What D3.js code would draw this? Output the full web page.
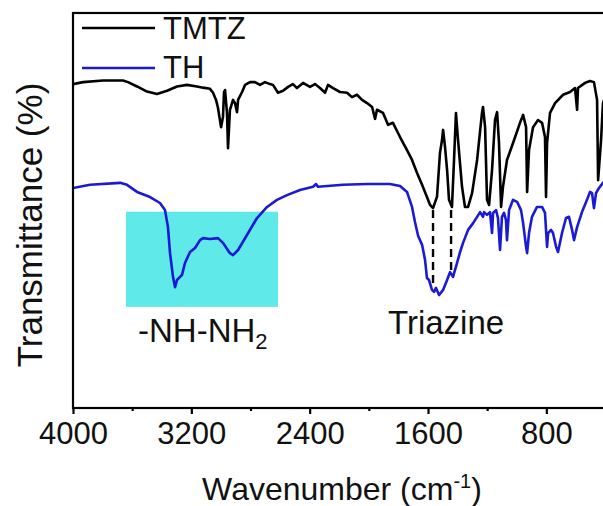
<!DOCTYPE html>
<html>
<head>
<meta charset="utf-8">
<script src="https://cdn.jsdelivr.net/npm/d3@7"></script>
<style>
  body { margin: 0; background: #fff; }
  svg { display: block; font-family: "Liberation Sans", Arial, sans-serif; }
</style>
</head>
<body>
<svg id="chart" width="603" height="506"></svg>
<script>
// FTIR spectra, [wavenumber cm-1, transmittance a.u.]
var tmtz = [
  [4000,82.0],[3932,82.5],[3797,82.9],[3662,82.9],[3628,82.5],[3567,81.4],[3500,80.1],[3432,79.5],
  [3364,80.3],[3297,81.4],[3229,81.8],[3162,81.4],[3121,81.1],[3074,80.8],[3053,79.8],[3033,78.0],
  [3020,76.0],[2999,71.1],[2986,73.7],[2979,80.0],[2972,80.5],[2959,74.7],[2952,65.8],[2939,75.5],
  [2918,78.0],[2905,77.2],[2891,74.9],[2884,78.0],[2857,80.0],[2837,81.8],[2803,82.5],[2770,82.5],
  [2736,81.8],[2702,82.5],[2668,82.0],[2648,81.8],[2614,79.8],[2580,80.3],[2546,81.3],[2513,82.0],
  [2486,81.0],[2445,82.3],[2398,81.3],[2364,82.0],[2330,81.0],[2296,79.8],[2276,81.8],[2242,81.0],
  [2195,80.0],[2147,79.8],[2114,78.7],[2080,79.3],[2046,78.0],[2012,77.2],[1978,76.2],[1958,73.2],
  [1945,75.5],[1904,74.7],[1870,71.7],[1837,72.2],[1789,68.6],[1742,65.3],[1708,62.8],[1674,59.5],
  [1640,56.5],[1607,53.4],[1586,51.4],[1566,50.6],[1539,53.5],[1519,64.6],[1505,67.9],[1498,70.4],
  [1485,66.1],[1471,60.3],[1458,52.7],[1438,50.9],[1424,62.8],[1411,74.7],[1397,67.9],[1370,56.0],
  [1350,50.9],[1329,50.9],[1302,54.4],[1268,62.8],[1235,74.7],[1228,76.2],[1214,71.1],[1201,52.7],
  [1187,51.4],[1167,60.3],[1147,72.9],[1133,74.9],[1120,67.1],[1106,50.9],[1093,56.0],[1066,62.8],
  [1025,67.1],[978,72.2],[957,74.2],[937,71.1],[930,54.7],[917,65.3],[890,71.1],[856,72.9],
  [829,72.2],[809,68.6],[802,53.4],[795,67.1],[775,74.7],[741,77.2],[687,79.3],[640,80.0],
  [606,81.0],[592,75.5],[586,81.0],[538,82.3],[505,82.8],[478,82.5],[457,78.0],[450,57.7],
  [430,67.9],[417,77.2],[400,79.0]
];

var th = [
  [4000,55.7],[3885,56.5],[3682,57.0],[3635,56.5],[3567,54.7],[3479,53.4],[3412,51.9],[3378,50.1],
  [3358,45.8],[3344,39.2],[3324,33.2],[3310,30.6],[3297,32.4],[3263,33.7],[3243,36.7],[3209,39.5],
  [3175,40.5],[3141,42.5],[3121,43.0],[3074,42.8],[3020,43.0],[2986,41.8],[2939,39.2],[2918,38.7],
  [2884,40.0],[2824,43.8],[2756,48.1],[2688,50.9],[2621,52.7],[2553,53.9],[2465,55.2],[2377,56.0],
  [2357,56.7],[2344,56.0],[2175,56.5],[2012,56.7],[1857,56.7],[1789,56.2],[1742,54.7],[1708,50.9],
  [1688,47.1],[1667,43.6],[1640,41.3],[1620,37.5],[1607,32.9],[1593,32.4],[1573,29.9],[1559,29.4],
  [1546,30.4],[1525,28.6],[1498,29.9],[1471,32.4],[1451,34.4],[1431,33.2],[1404,36.7],[1383,39.5],
  [1363,41.8],[1329,45.1],[1295,46.8],[1268,48.4],[1248,49.6],[1228,48.4],[1221,49.6],[1201,48.9],
  [1181,49.6],[1167,44.3],[1160,49.4],[1140,50.1],[1127,48.1],[1113,40.0],[1100,48.4],[1086,49.4],
  [1073,47.6],[1066,42.5],[1052,50.1],[1025,52.7],[998,52.2],[971,50.1],[957,46.8],[937,40.8],
  [930,39.2],[917,44.3],[897,48.4],[863,50.9],[829,50.9],[809,49.4],[795,40.8],[788,44.3],
  [768,45.1],[755,44.3],[734,40.8],[721,39.5],[694,44.3],[667,48.1],[647,48.4],[626,45.1],
  [613,42.5],[592,45.8],[559,49.6],[525,52.7],[505,54.7],[491,54.4],[478,50.6],[464,54.4],
  [444,55.7],[417,57.0],[400,57.5]
];

var series = [
  {name: "TMTZ", data: tmtz, color: "#000000"},
  {name: "TH", data: th, color: "#1a1ad4"}
];

var majorTicks = [4000, 3200, 2400, 1600, 800];
var minorTicks = [3600, 2800, 2000, 1200, 400];

// highlighted N-H band: [wavenumber from, wavenumber to, T low, T high]
var nhBand = [3642, 2614, 25.6, 49.7];

// triazine marker lines: [wavenumber, T top, T bottom]
var triazineLines = [[1566, 50.1, 30.6], [1444, 50.1, 34.6]];

var svg = d3.select("#chart");
var padL = 73, padT = 13, padB = 408, padR = 605.5;

var x = d3.scaleLinear().domain([4000, 400]).range([padL, padR]);
var y = d3.scaleLinear().domain([0, 100]).range([padB, padT]);

svg.append("defs").append("clipPath").attr("id", "plotclip")
   .append("rect")
   .attr("x", padL).attr("y", padT)
   .attr("width", padR - padL).attr("height", padB - padT);

var plot = svg.append("g").attr("clip-path", "url(#plotclip)");

plot.append("rect")
    .attr("x", x(nhBand[0]))
    .attr("y", y(nhBand[3]))
    .attr("width", x(nhBand[1]) - x(nhBand[0]))
    .attr("height", y(nhBand[2]) - y(nhBand[3]))
    .style("fill", "#5fe9e9");

var line = d3.line()
             .x(function(d){ return x(d[0]) })
             .y(function(d){ return y(d[1]) });

series.forEach(function(s){
  plot.append("path")
      .datum(s.data)
      .attr("d", line)
      .style("fill", "none")
      .style("stroke", s.color)
      .style("stroke-width", 2.6)
      .style("stroke-linejoin", "round");
});

plot.selectAll(".tri")
    .data(triazineLines)
    .enter()
    .append("line")
    .attr("x1", function(d){ return x(d[0]) })
    .attr("x2", function(d){ return x(d[0]) })
    .attr("y1", function(d){ return y(d[1]) })
    .attr("y2", function(d){ return y(d[2]) })
    .style("stroke", "#000")
    .style("stroke-width", 2.4)
    .style("stroke-dasharray", "8,5");

// frame
svg.append("rect")
   .attr("x", padL).attr("y", padT)
   .attr("width", padR - padL).attr("height", padB - padT)
   .style("fill", "none")
   .style("stroke", "#000")
   .style("stroke-width", 2.2);

var xAxis = svg.append("g")
   .attr("transform", "translate(0," + padB + ")")
   .call(d3.axisBottom(x).tickValues(majorTicks).tickSize(6).tickPadding(8)
           .tickFormat(d3.format("d")));
xAxis.select(".domain").remove();
xAxis.selectAll("line").style("stroke-width", 2.2);
xAxis.selectAll("text")
     .style("font-size", "31px")
     .style("font-family", "Liberation Sans, Arial, sans-serif")
     .attr("fill", "#111");

var xMinor = svg.append("g")
   .attr("transform", "translate(0," + padB + ")")
   .call(d3.axisBottom(x).tickValues(minorTicks).tickSize(3).tickFormat(""));
xMinor.select(".domain").remove();
xMinor.selectAll("line").style("stroke-width", 2.2);

// axis titles
var xt = svg.append("text")
   .attr("x", 342).attr("y", 500)
   .attr("text-anchor", "middle")
   .style("font-size", "32px")
   .attr("fill", "#111");
xt.append("tspan").text("Wavenumber (cm");
xt.append("tspan").attr("dy", -12).style("font-size", "20px").text("-1");
xt.append("tspan").attr("dy", 12).text(")");

svg.append("text")
   .attr("transform", "translate(42,225) rotate(-90)")
   .attr("text-anchor", "middle")
   .style("font-size", "35px")
   .attr("fill", "#111")
   .text("Transmittance (%)");

// legend
var lg = svg.append("g").selectAll("g")
   .data(series)
   .enter()
   .append("g");

lg.append("line")
  .attr("x1", 82).attr("x2", 155)
  .attr("y1", function(d,i){ return 28 + i * 40 })
  .attr("y2", function(d,i){ return 28 + i * 40 })
  .style("stroke", function(d){ return d.color })
  .style("stroke-width", 2.6);

lg.append("text")
  .attr("x", 163)
  .attr("y", function(d,i){ return 39 + i * 39 })
  .style("font-size", "31px")
  .attr("fill", "#111")
  .text(function(d){ return d.name });

// annotations
var nh = svg.append("text")
   .attr("x", 138).attr("y", 342)
   .style("font-size", "33px")
   .attr("fill", "#111");
nh.append("tspan").text("-NH-NH");
nh.append("tspan").attr("dy", 7).style("font-size", "22px").text("2");

svg.append("text")
   .attr("x", 388).attr("y", 334)
   .style("font-size", "33px")
   .attr("fill", "#111")
   .text("Triazine");
</script>
</body>
</html>
